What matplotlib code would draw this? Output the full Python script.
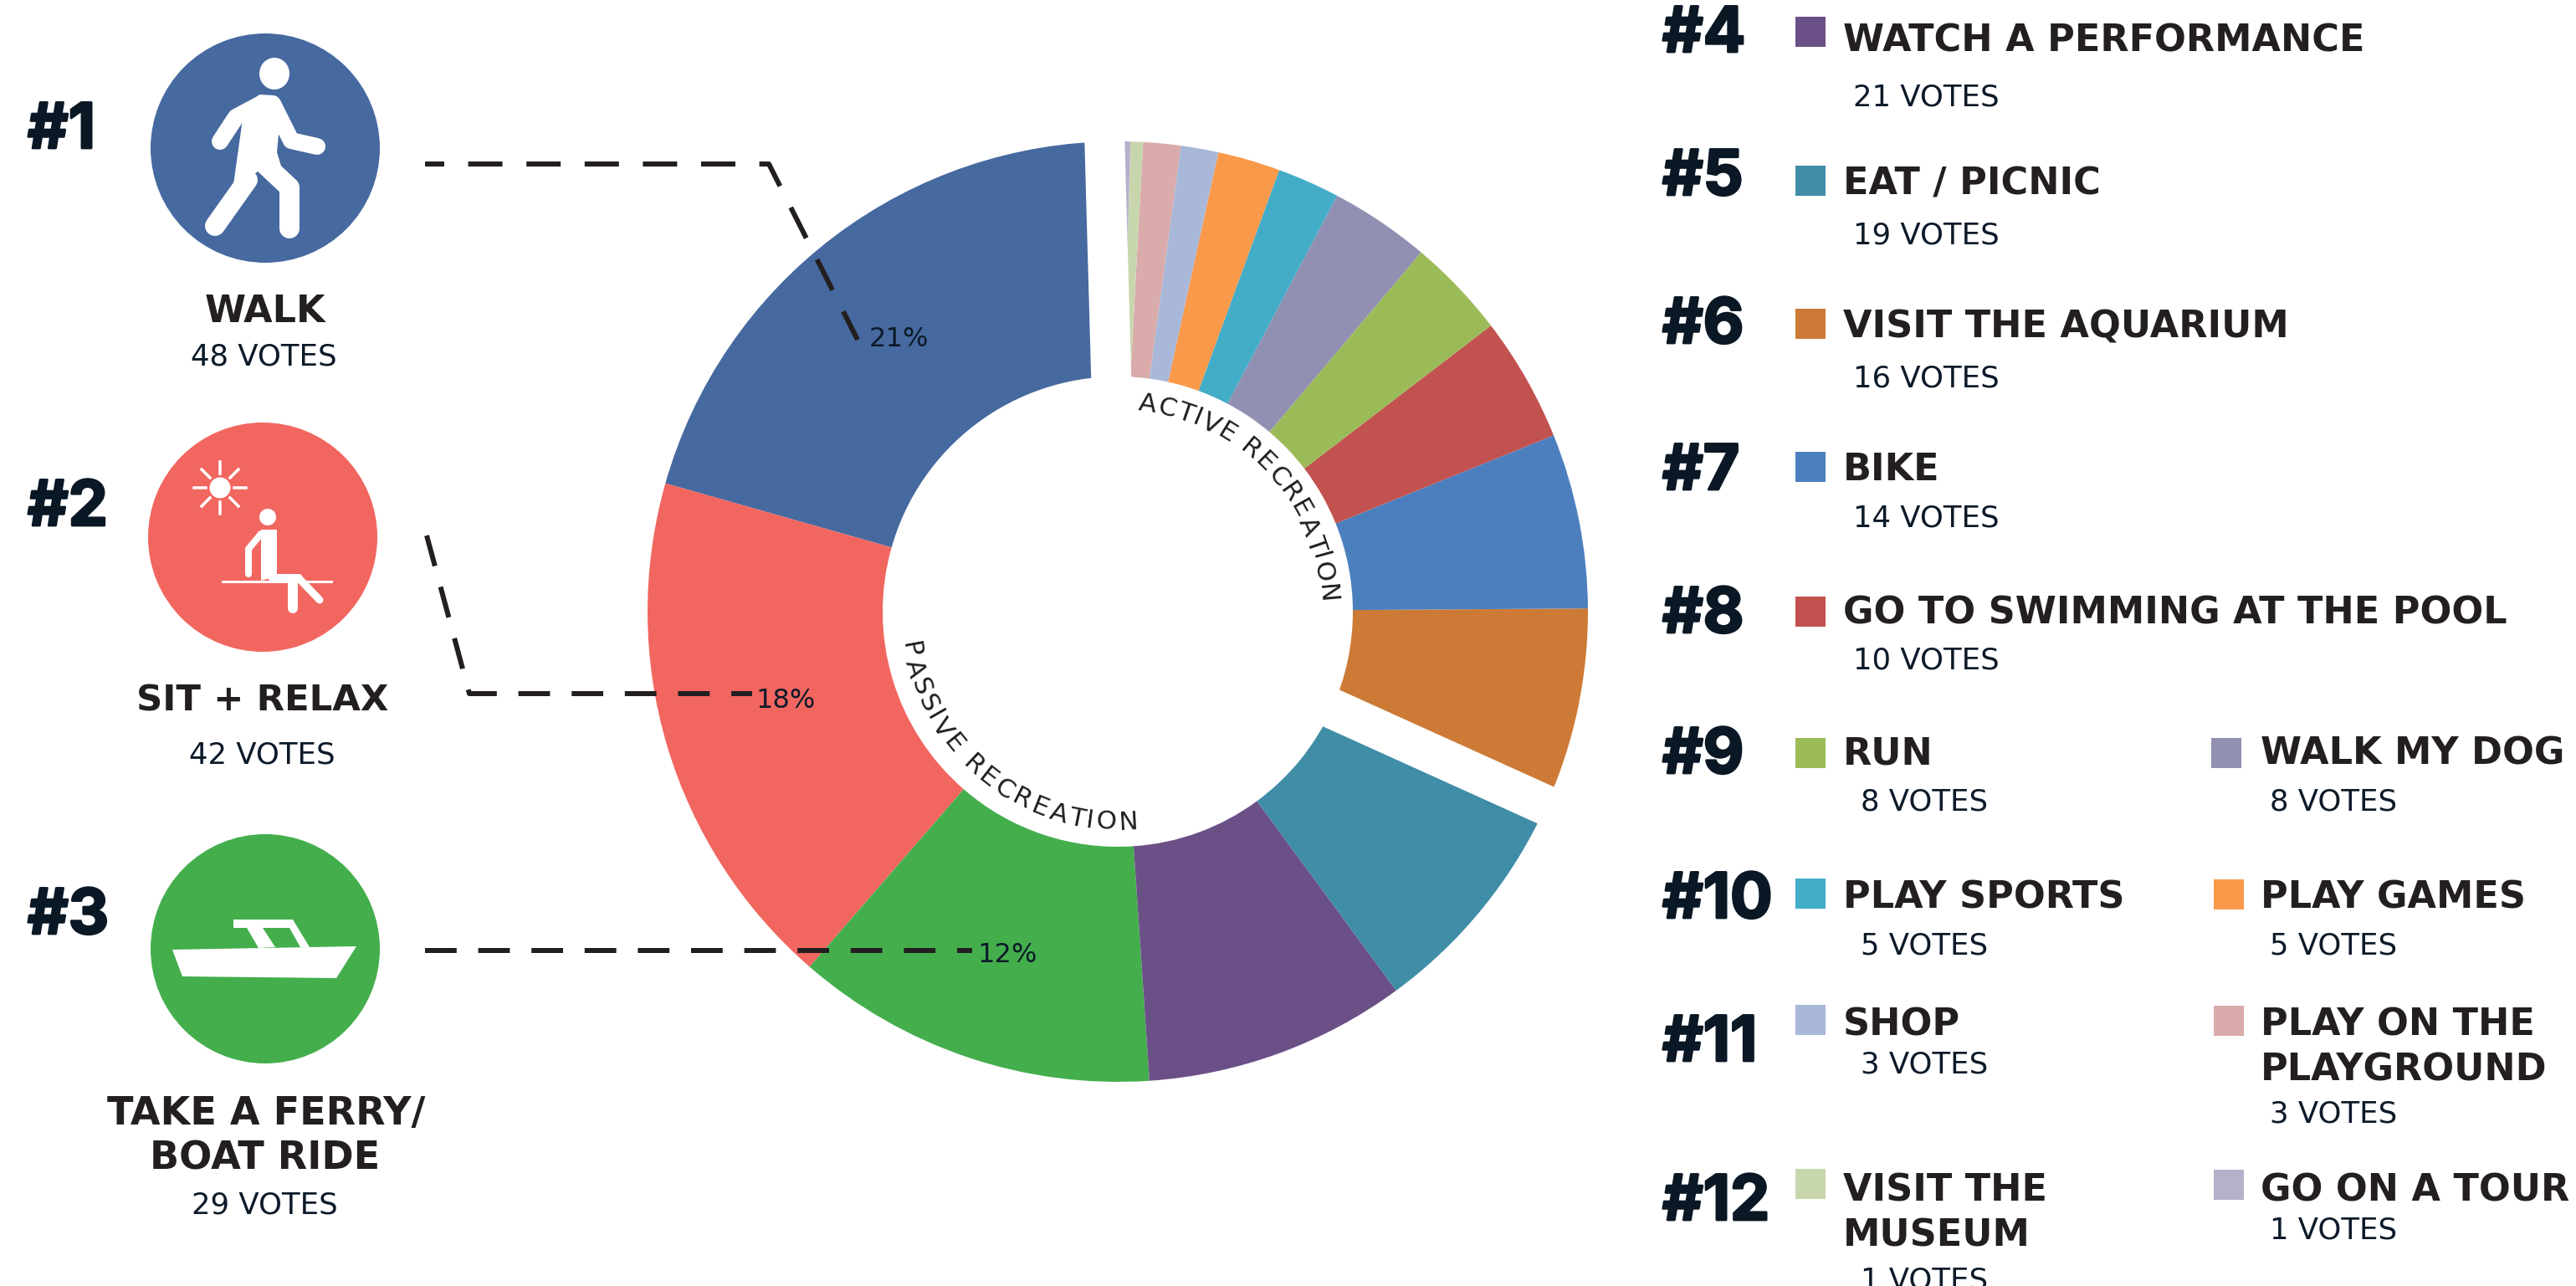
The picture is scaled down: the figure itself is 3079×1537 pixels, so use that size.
import numpy as np
import matplotlib; matplotlib.use('Agg')
import matplotlib.pyplot as plt
from matplotlib.patches import Circle, Ellipse, Polygon, Rectangle
from matplotlib.font_manager import FontProperties
from matplotlib.textpath import TextToPath
from matplotlib.transforms import Affine2D
import matplotlib.patheffects as pe

W, H = 3079, 1537
PX = 72 / 200  # points per pixel at dpi 200
DARK, NAVY = '#231f20', '#0c1a29'

# pie order, counter-clockwise from 12 o'clock
activities = ['WALK', 'SIT + RELAX', 'TAKE A FERRY/ BOAT RIDE', 'WATCH A PERFORMANCE', 'EAT / PICNIC',
              'VISIT THE AQUARIUM', 'BIKE', 'GO TO SWIMMING AT THE POOL', 'RUN', 'WALK MY DOG',
              'PLAY SPORTS', 'PLAY GAMES', 'SHOP', 'PLAY ON THE PLAYGROUND', 'VISIT THE MUSEUM', 'GO ON A TOUR']
votes = [48, 42, 29, 21, 19, 16, 14, 10, 8, 8, 5, 5, 3, 3, 1, 1]
colors = ['#46699f', '#f26660', '#44ae4d', '#6b5087', '#3f8da6', '#cd7a36', '#4c7fbe', '#c25250',
          '#9bbb59', '#918fb2', '#43acc7', '#f9994a', '#a9b8d8', '#d9abaa', '#c8d6ae', '#b7b0ca']
ranks = ['#1', '#2', '#3', '#4', '#5', '#6', '#7', '#8', '#9', '#10', '#11', '#12']
pct_labels = ['21%', '18%', '12%']

fig = plt.figure(figsize=(W / 200, H / 200), dpi=200, facecolor='white')
ax = fig.add_axes([0, 0, 1, 1])

CX, CY, R, R_IN = 1336, 731, 562, 281
ax.pie(votes, colors=colors, startangle=90, counterclock=True, center=(CX, H - CY), radius=R,
       wedgeprops=dict(width=R - R_IN, linewidth=0), frame=False)
ax.set_xlim(0, W); ax.set_ylim(0, H); ax.set_aspect('equal'); ax.axis('off')

def Y(y): return H - y

def band(angle_ccw):
    # white gap running from the centre outwards, angle ccw from 12 o'clock
    tr = Affine2D().rotate_deg(angle_ccw).translate(CX, H - CY) + ax.transData
    ax.add_patch(Rectangle((-24, 0), 48, R + 20, fc='white', ec='none', transform=tr, zorder=3))

band(1.6)
# the gap between passive and active groups
band(sum(votes[:5]) / sum(votes) * 360)

def txt(x, yc, s, size, color=DARK, ha='left', weight='normal', family='DejaVu Sans', **kw):
    # yc is the middle of the capitals in image pixels
    return ax.text(x, Y(yc + size * 1.0), s, fontsize=size, color=color, ha=ha, va='baseline',
                   fontweight=weight, family=family, zorder=6, **kw)

def rank(x, yc, s):
    t = txt(x, yc, s, 27, color='#0a1724', weight='bold', family='Inter')
    t.set_path_effects([pe.withStroke(linewidth=1.0, foreground='#0a1724')])

def arc_text(s, a0, a1, r, size, clockwise=True):
    # angles are clockwise from 12 o'clock, letter by letter along the circle
    fp = FontProperties(family='DejaVu Sans', size=size)
    adv = np.array([TextToPath().get_text_width_height_descent(c, fp, False)[0] for c in s], float)
    pos = (np.cumsum(adv) - adv / 2) / adv.sum()
    for ch, f in zip(s, pos):
        a = np.radians(a0 + (a1 - a0) * f)
        x, y = CX + r * np.sin(a), CY - r * np.cos(a)
        rot = -np.degrees(a) if clockwise else 180 - np.degrees(a)
        ax.text(x, Y(y), ch, fontsize=size, color=DARK, ha='center', va='center', rotation=rot,
                rotation_mode='anchor', zorder=6)

arc_text('ACTIVE RECREATION', 5.5, 88, 250, 11.2)
arc_text('PASSIVE RECREATION', 262, 174, 252, 11.2, clockwise=False)

# leader lines
leaders = [([508, 919, 1025], [196, 196, 406], (3.0, (6.83, 4.77))),
           ([510, 561, 899], [640, 829, 829], (0, (6.3, 4.3))),
           ([508, 1162], [1136, 1136], (0, (6.3, 4.3)))]
for lx, ly, ls in leaders:
    ax.plot(lx, [Y(v) for v in ly], color=DARK, lw=6 * PX, ls=ls, zorder=5, dash_capstyle='butt')

for (px, py), s in zip([(1074, 403), (939, 835), (1204, 1139)], pct_labels):
    txt(px, py, s, 11.5, color=NAVY, ha='center')

# icon circles
for (cx, cy), c in zip([(317, 177), (314, 642), (317, 1134)], colors[:3]):
    ax.add_patch(Circle((cx, Y(cy)), 137, fc=c, ec='none', zorder=4))

def stroke(xs, ys, w):
    ax.plot(xs, [Y(v) for v in ys], color='white', lw=w * PX, solid_capstyle='round',
            solid_joinstyle='round', zorder=5)

def poly(pts, fc='white'):
    ax.add_patch(Polygon([(x, Y(y)) for x, y in pts], fc=fc, ec='none', zorder=5))

# walker
ax.add_patch(Ellipse((328, Y(88)), 36, 38, fc='white', ec='none', zorder=5))
stroke([312, 282, 263], [124, 140, 169], 20)
stroke([326, 348, 379], [124, 168, 175], 20)
poly([(292, 128), (310, 113), (328, 114), (336, 128), (331, 182), (338, 205), (308, 205), (278, 228)])
stroke([296, 257], [215, 270], 24)
stroke([315, 346, 346], [195, 224, 273], 24)

# sitter and sun
ax.add_patch(Ellipse((263, Y(583)), 25, 25, fc='white', ec='none', zorder=5))
for a in np.arange(0, 360, 45):
    ca, sa = np.cos(np.radians(a)), np.sin(np.radians(a))
    ax.plot([263 + 17 * ca, 263 + 31 * ca], [Y(583 + 17 * sa), Y(583 + 31 * sa)], color='white', lw=3.5 * PX, zorder=5)
ax.add_patch(Circle((320, Y(618)), 10, fc='white', ec='none', zorder=5))
poly([(312, 633), (331, 633), (331, 689), (312, 694)])
stroke([297, 297, 312], [686, 656, 638], 8)
ax.plot([266, 396], [Y(695), Y(695)], color='white', lw=3 * PX, zorder=5)
stroke([326, 357], [691, 691], 10)
stroke([350, 350], [694, 727], 12)
stroke([357, 382], [691, 717], 9)

# boat
poly([(206, 1135), (426, 1131), (402, 1169), (218, 1167)])
poly([(279, 1099), (350, 1099), (370, 1132), (359, 1132), (346, 1109), (279, 1109)])
poly([(295, 1109), (314, 1109), (329, 1132), (309, 1133)])

for s, x, yc in [('#1', 33, 150), ('#2', 33, 601), ('#3', 33, 1089)]:
    rank(x, yc, s)

# left column captions
for x, yc, s, sz in [(317, 369, 'WALK', 16), (314, 834, 'SIT + RELAX', 15.6),
                     (318, 1327, 'TAKE A FERRY/', 16.6), (317, 1381, 'BOAT RIDE', 16.6)]:
    txt(x, yc, s, sz, ha='center', weight='bold')
for x, yc, i in [(315, 424, 0), (313, 900, 1), (316, 1438, 2)]:
    txt(x, yc, f'{votes[i]} VOTES', 12.8, color=NAVY, ha='center')

# right column
rank_y = [35, 206, 383, 558, 729, 897, 1070, 1241, 1431]
for yc, s in zip(rank_y, ranks[3:]):
    rank(1987, yc, s)

# index into activities, swatch x/top, label x, label lines with y, votes x/y
rows = [(3, 2146, 20, 2203, [('WATCH A PERFORMANCE', 45)], 2215, 114),
        (4, 2146, 198, 2203, [('EAT / PICNIC', 216)], 2215, 279),
        (5, 2146, 369, 2203, [('VISIT THE AQUARIUM', 387)], 2215, 450),
        (6, 2146, 540, 2203, [('BIKE', 558)], 2215, 617),
        (7, 2146, 713, 2203, [('GO TO SWIMMING AT THE POOL', 729)], 2215, 787),
        (8, 2146, 882, 2203, [('RUN', 898)], 2224, 956),
        (9, 2643, 882, 2702, [('WALK MY DOG', 898)], 2713, 956),
        (10, 2146, 1050, 2203, [('PLAY SPORTS', 1069)], 2224, 1128),
        (11, 2646, 1051, 2702, [('PLAY GAMES', 1069)], 2713, 1128),
        (12, 2146, 1201, 2203, [('SHOP', 1221)], 2224, 1270),
        (13, 2646, 1202, 2702, [('PLAY ON THE', 1221), ('PLAYGROUND', 1276)], 2713, 1329),
        (14, 2146, 1397, 2203, [('VISIT THE', 1419), ('MUSEUM', 1473)], 2224, 1528),
        (15, 2646, 1398, 2702, [('GO ON A TOUR', 1419)], 2713, 1468)]
for i, sx, sy, lx, lines, vx, vy in rows:
    ax.add_patch(Rectangle((sx, Y(sy + 36)), 36, 36, fc=colors[i], ec='none', zorder=4))
    for s, ly in lines:
        txt(lx, ly, s, 16, weight='bold')
    txt(vx, vy, f'{votes[i]} VOTES', 12.8, color=NAVY)

fig.savefig('out.png', dpi=200)
